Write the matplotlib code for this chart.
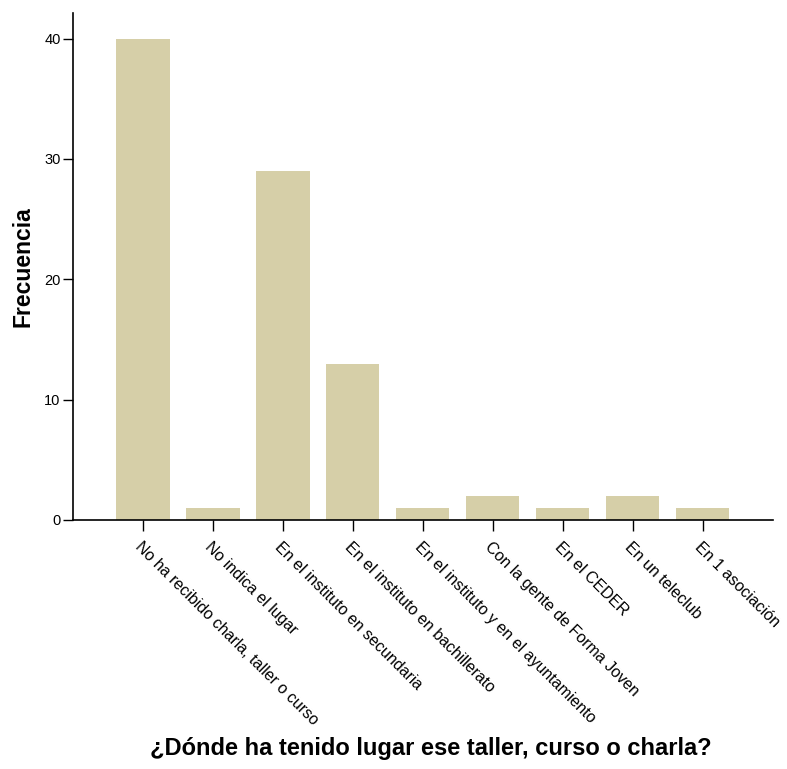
import matplotlib.pyplot as plt

plt.rcParams['font.family'] = ['Liberation Sans', 'DejaVu Sans']

# datos
categories = [
    "No ha recibido charla, taller o curso",
    "No indica el lugar",
    "En el instituto en secundaria",
    "En el instituto en bachillerato",
    "En el instituto y en el ayuntamiento",
    "Con la gente de Forma Joven",
    "En el CEDER",
    "En un teleclub",
    "En 1 asociación",
]
frequencies = [40, 1, 29, 13, 1, 2, 1, 2, 1]
y_ticks = [0, 10, 20, 30, 40]

fig = plt.figure(figsize=(7.87, 7.69), dpi=100)
ax = fig.add_axes([0.0928, 0.3238, 0.889, 0.659])

x = list(range(1, len(categories) + 1))
ax.bar(x, frequencies, width=0.76, color='#d6cfa8', zorder=2)

ax.set_xlim(0, 10)
ax.set_ylim(0, 42.1)
ax.set_yticks(y_ticks)
ax.set_xticks(x)
ax.set_xticklabels(categories, rotation=-45, ha='left', va='top',
                   rotation_mode='anchor', fontsize=11.5)
ax.tick_params(axis='y', length=7, width=1, labelsize=10.5, pad=2)
ax.tick_params(axis='x', length=8, width=1, pad=6)

for s in ['top', 'right']:
    ax.spines[s].set_visible(False)
for s in ['left', 'bottom']:
    ax.spines[s].set_linewidth(1.2)

ax.set_ylabel('Frecuencia', fontsize=16.5, fontweight='bold', labelpad=7)
fig.text(0.548, 0.027, '¿Dónde ha tenido lugar ese taller, curso o charla?',
         ha='center', va='center', fontsize=17, fontweight='bold')

fig.savefig('out.png', dpi=100, facecolor='white')
